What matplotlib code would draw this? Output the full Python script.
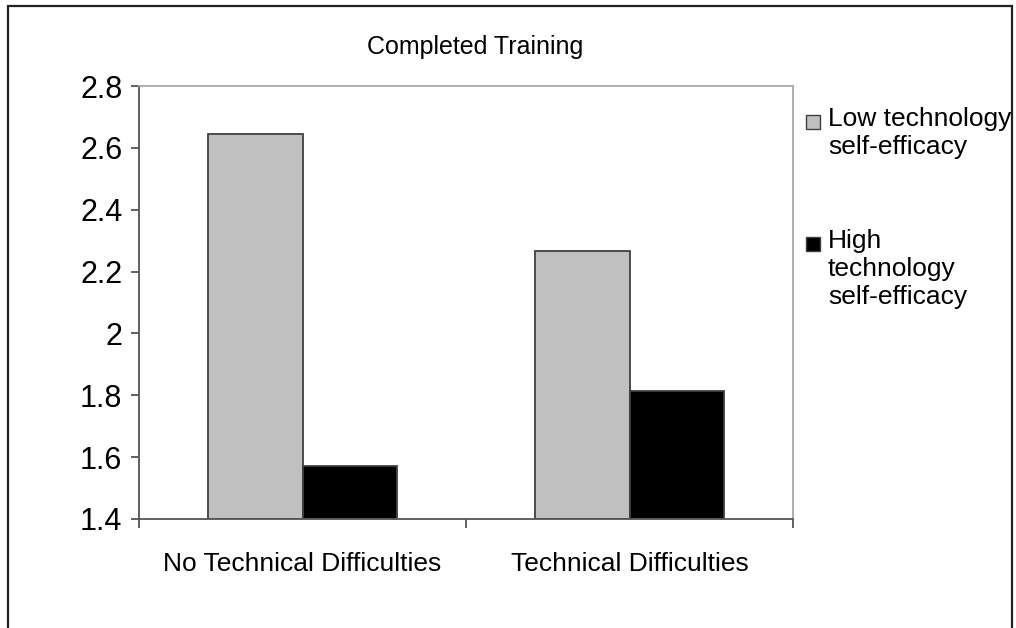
import matplotlib
matplotlib.use("Agg")
import matplotlib.pyplot as plt
from matplotlib.patches import Rectangle
import numpy as np

plt.rcParams['font.family'] = ['Liberation Sans', 'DejaVu Sans']

title = "Completed Training"
categories = ["No Technical Difficulties", "Technical Difficulties"]
series_names = ["Low technology\nself-efficacy", "High\ntechnology\nself-efficacy"]
low_values = [2.645, 2.265]
high_values = [1.57, 1.815]
yticks = [1.4, 1.6, 1.8, 2.0, 2.2, 2.4, 2.6, 2.8]
ytick_labels = ["1.4", "1.6", "1.8", "2", "2.2", "2.4", "2.6", "2.8"]
colors = ["#c0c0c0", "#000000"]

W, H = 1016, 628
fig = plt.figure(figsize=(W / 100, H / 100), dpi=100)
fig.patch.set_facecolor("white")

ax = fig.add_axes([139 / W, 1 - 519 / H, (793 - 139) / W, (519 - 86) / H])

x = np.arange(len(categories))
bw = 0.289
ax.bar(x - bw / 2, [v - 1.4 for v in low_values], bw, bottom=1.4,
       color=colors[0], edgecolor="#404040", linewidth=1.3, zorder=2)
ax.bar(x + bw / 2, [v - 1.4 for v in high_values], bw, bottom=1.4,
       color=colors[1], edgecolor="#404040", linewidth=1.3, zorder=2)

ax.set_xlim(-0.5, 1.5)
ax.set_ylim(1.4, 2.8)
ax.set_yticks(yticks)
ax.set_yticklabels(ytick_labels, fontsize=22)
ax.set_xticks(x)
ax.set_xticklabels(categories, fontsize=19)
ax.set_xticks([-0.5, 0.5, 1.5], minor=True)
ax.tick_params(axis="x", which="major", length=0, pad=24)
ax.tick_params(axis="x", which="minor", length=6.5, width=1.3, color="#555555", direction="out")
ax.tick_params(axis="y", length=5.5, width=1.3, color="#555555", pad=6.5, direction="out")

for s in ["left", "bottom"]:
    ax.spines[s].set_color("#555555")
    ax.spines[s].set_linewidth(1.3)
for s in ["top", "right"]:
    ax.spines[s].set_color("#a8a8a8")
    ax.spines[s].set_linewidth(1.3)

fig.text(475 / W, 1 - 47 / H, title, fontsize=18, ha="center", va="center")

# legend
leg_items = [(series_names[0], colors[0], 122), (series_names[1], colors[1], 244)]
for name, col, yc in leg_items:
    sq = 14
    fig.add_artist(Rectangle((806 / W, 1 - (yc + sq / 2) / H), sq / W, sq / H,
                             transform=fig.transFigure, facecolor=col,
                             edgecolor="#404040", linewidth=1.0))
    fig.text(828 / W, 1 - (yc - 15) / H, name, fontsize=19, ha="left", va="top",
             linespacing=1.2)

# chart frame
fig.add_artist(Rectangle((8 / W, -20 / H), (1012 - 8) / W, (622 + 20) / H,
                         transform=fig.transFigure, fill=False,
                         edgecolor="#222222", linewidth=1.6))

fig.savefig("out.png", dpi=100)
